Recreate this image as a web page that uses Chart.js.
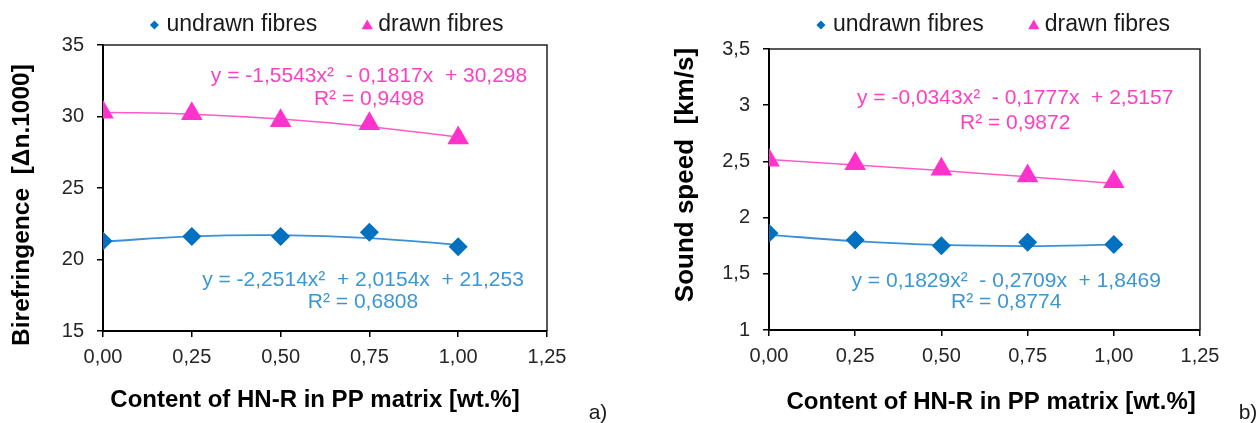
<!DOCTYPE html>
<html>
<head>
<meta charset="utf-8">
<script src="https://cdn.jsdelivr.net/npm/chart.js@4.4.1/dist/chart.umd.min.js"></script>
<style>
  body { margin: 0; background: #fff; width: 1258px; height: 423px; overflow: hidden; position: relative; }
  .panel { position: absolute; top: 0; height: 423px; }
  #panelA { left: 0; width: 620px; }
  #panelB { left: 620px; width: 638px; }
</style>
</head>
<body>
<div class="panel" id="panelA"><canvas id="chartA"></canvas></div>
<div class="panel" id="panelB"><canvas id="chartB"></canvas></div>
<script>
// content of HN-R (x) shared by both panels
const content = [0, 0.25, 0.5, 0.75, 1];
const seriesNames = ['undrawn fibres', 'drawn fibres'];

// a) birefringence
const birefUndrawn = [21.3, 21.6, 21.6, 21.9, 20.9];
const birefDrawn = [30.3, 30.2, 29.7, 29.5, 28.5];
const birefTrendUndrawn = [21.25, 21.62, 21.70, 21.50, 21.02];
const birefTrendDrawn = [30.30, 30.16, 29.82, 29.29, 28.56];
const birefEqUndrawn = ['y = -2,2514x²  + 2,0154x  + 21,253', 'R² = 0,6808'];
const birefEqDrawn = ['y = -1,5543x²  - 0,1817x  + 30,298', 'R² = 0,9498'];

// b) sound speed
const speedUndrawn = [1.86, 1.80, 1.75, 1.78, 1.76];
const speedDrawn = [2.51, 2.48, 2.43, 2.37, 2.32];
const speedTrendUndrawn = [1.847, 1.791, 1.757, 1.747, 1.759];
const speedTrendDrawn = [2.516, 2.469, 2.418, 2.363, 2.304];
const speedEqUndrawn = ['y = 0,1829x²  - 0,2709x  + 1,8469', 'R² = 0,8774'];
const speedEqDrawn = ['y = -0,0343x²  - 0,1777x  + 2,5157', 'R² = 0,9872'];

const BLUE = '#0070C0', BLUE_LINE = '#3A8FD8', BLUE_TEXT = '#3B97D3';
const PINK = '#FF33CC', PINK_LINE = '#FF5CC8', PINK_TEXT = '#FF3FC0';
const FONT = '"Liberation Sans", Arial, sans-serif';

function marker(ctx, style, x, y, r, color) {
  ctx.fillStyle = color;
  ctx.beginPath();
  if (style === 'rectRot') {
    ctx.moveTo(x - r, y); ctx.lineTo(x, y - r); ctx.lineTo(x + r, y); ctx.lineTo(x, y + r);
  } else {
    ctx.moveTo(x, y - r); ctx.lineTo(x + 0.866 * r, y + 0.5 * r); ctx.lineTo(x - 0.866 * r, y + 0.5 * r);
  }
  ctx.closePath();
  ctx.fill();
}

// frame, legend, trend equations and panel letter
const decor = {
  id: 'decor',
  afterDraw(chart, args, o) {
    const {ctx, chartArea: a, scales: {x, y}} = chart;
    ctx.save();
    ctx.strokeStyle = '#222';
    ctx.lineWidth = 1.5;
    ctx.beginPath();
    ctx.moveTo(a.left, a.top); ctx.lineTo(a.right, a.top); ctx.lineTo(a.right, a.bottom);
    ctx.stroke();

    // legend
    ctx.font = '23px ' + FONT;
    ctx.textBaseline = 'middle';
    ctx.textAlign = 'left';
    const w1 = ctx.measureText(seriesNames[0]).width;
    const w2 = ctx.measureText(seriesNames[1]).width;
    const total = 16 + w1 + 50 + 11 + w2;
    let lx = (a.left + a.right) / 2 + o.legendShift - total / 2;
    const ly = 25;
    marker(ctx, 'rectRot', lx + 4, ly, 4.5, BLUE);
    ctx.fillStyle = '#1a1a1a';
    ctx.fillText(seriesNames[0], lx + 16, ly);
    lx += 16 + w1 + 50;
    marker(ctx, 'triangle', lx, ly + 1, 6.5, PINK);
    ctx.fillStyle = '#1a1a1a';
    ctx.fillText(seriesNames[1], lx + 11, ly);

    // equations
    ctx.font = '21px ' + FONT;
    ctx.textAlign = 'center';
    o.notes.forEach(n => {
      ctx.fillStyle = n.color;
      const px = x.getPixelForValue(n.x), py = y.getPixelForValue(n.y);
      n.lines.forEach((t, i) => ctx.fillText(t, px, py + i * n.gap));
    });

    ctx.font = '21px ' + FONT;
    ctx.fillStyle = '#1a1a1a';
    ctx.fillText(o.letter, o.letterX, 413);
    ctx.restore();
  }
};

function makeChart(id, p) {
  const pts = ys => content.map((v, i) => ({x: v, y: ys[i]}));
  return new Chart(document.getElementById(id), {
    type: 'scatter',
    data: {
      datasets: [
        { label: seriesNames[0], data: pts(p.undrawn), pointStyle: 'rectRot', pointRadius: 9.5,
          backgroundColor: BLUE, borderColor: BLUE, borderWidth: 0 },
        { label: seriesNames[1], data: pts(p.drawn), pointStyle: 'triangle', pointRadius: 12.5,
          backgroundColor: PINK, borderColor: PINK, borderWidth: 0 },
        { label: 'trend undrawn', data: pts(p.trendUndrawn), showLine: true, pointRadius: 0,
          borderColor: BLUE_LINE, borderWidth: 1.8, tension: 0.4 },
        { label: 'trend drawn', data: pts(p.trendDrawn), showLine: true, pointRadius: 0,
          borderColor: PINK_LINE, borderWidth: 1.5, tension: 0.4 }
      ]
    },
    options: {
      responsive: true,
      maintainAspectRatio: false,
      animation: false,
      events: [],
      layout: { padding: { top: p.top, right: p.right, left: 0, bottom: 0 } },
      plugins: {
        legend: { display: false },
        tooltip: { enabled: false },
        decor: { notes: p.notes, letter: p.letter, letterX: p.letterX, legendShift: p.legendShift }
      },
      scales: {
        x: {
          type: 'linear', min: 0, max: 1.25,
          ticks: { stepSize: 0.25, padding: 8, color: '#262626', font: { size: 20, family: FONT },
                   maxRotation: 0, callback: v => v.toFixed(2).replace('.', ',') },
          grid: { drawOnChartArea: false, drawTicks: true, tickLength: 6, color: '#000', lineWidth: 1.5 },
          border: { color: '#000', width: 2 },
          title: { display: true, text: p.xTitle, color: '#000',
                   font: { size: 24, weight: 'bold', family: FONT }, padding: { top: 0, bottom: p.xTitlePad } },
          afterFit: s => { s.height = p.xAxisH; }
        },
        y: {
          min: p.yMin, max: p.yMax,
          ticks: { stepSize: p.yStep, padding: 13, color: '#262626', font: { size: 20, family: FONT },
                   callback: v => String(v).replace('.', ',') },
          grid: { drawOnChartArea: false, drawTicks: true, tickLength: 6, color: '#000', lineWidth: 1.5 },
          border: { color: '#000', width: 2 },
          title: { display: true, text: p.yTitle, color: '#000',
                   font: { size: p.yTitleSize, weight: 'bold', family: FONT }, padding: { top: p.yTitlePad, bottom: 0 } },
          afterFit: s => { s.width = p.yAxisW; }
        }
      }
    },
    plugins: [decor]
  });
}

makeChart('chartA', {
  undrawn: birefUndrawn, drawn: birefDrawn,
  trendUndrawn: birefTrendUndrawn, trendDrawn: birefTrendDrawn,
  yMin: 15, yMax: 35, yStep: 5, yTitle: 'Birefringence  [Δn.1000]     ', yTitleSize: 24.5,
  xTitle: 'Content of HN-R in PP matrix [wt.%]   ',
  top: 45, right: 73, yAxisW: 103, xAxisH: 92, yTitlePad: 8, xTitlePad: 8,
  legendShift: 2, letter: 'a)', letterX: 598,
  notes: [
    { x: 0.749, y: 32.83, gap: 23, color: PINK_TEXT, lines: birefEqDrawn },
    { x: 0.732, y: 18.57, gap: 22, color: BLUE_TEXT, lines: birefEqUndrawn }
  ]
});

makeChart('chartB', {
  undrawn: speedUndrawn, drawn: speedDrawn,
  trendUndrawn: speedTrendUndrawn, trendDrawn: speedTrendDrawn,
  yMin: 1, yMax: 3.5, yStep: 0.5, yTitle: '    Sound speed  [km/s]', yTitleSize: 26,
  xTitle: '  Content of HN-R in PP matrix [wt.%]',
  top: 49, right: 58, yAxisW: 149, xAxisH: 93, yTitlePad: 50, xTitlePad: 6,
  legendShift: 9, letter: 'b)', letterX: 628,
  notes: [
    { x: 0.714, y: 3.065, gap: 25, color: PINK_TEXT, lines: speedEqDrawn },
    { x: 0.688, y: 1.436, gap: 21, color: BLUE_TEXT, lines: speedEqUndrawn }
  ]
});
</script>
</body>
</html>
